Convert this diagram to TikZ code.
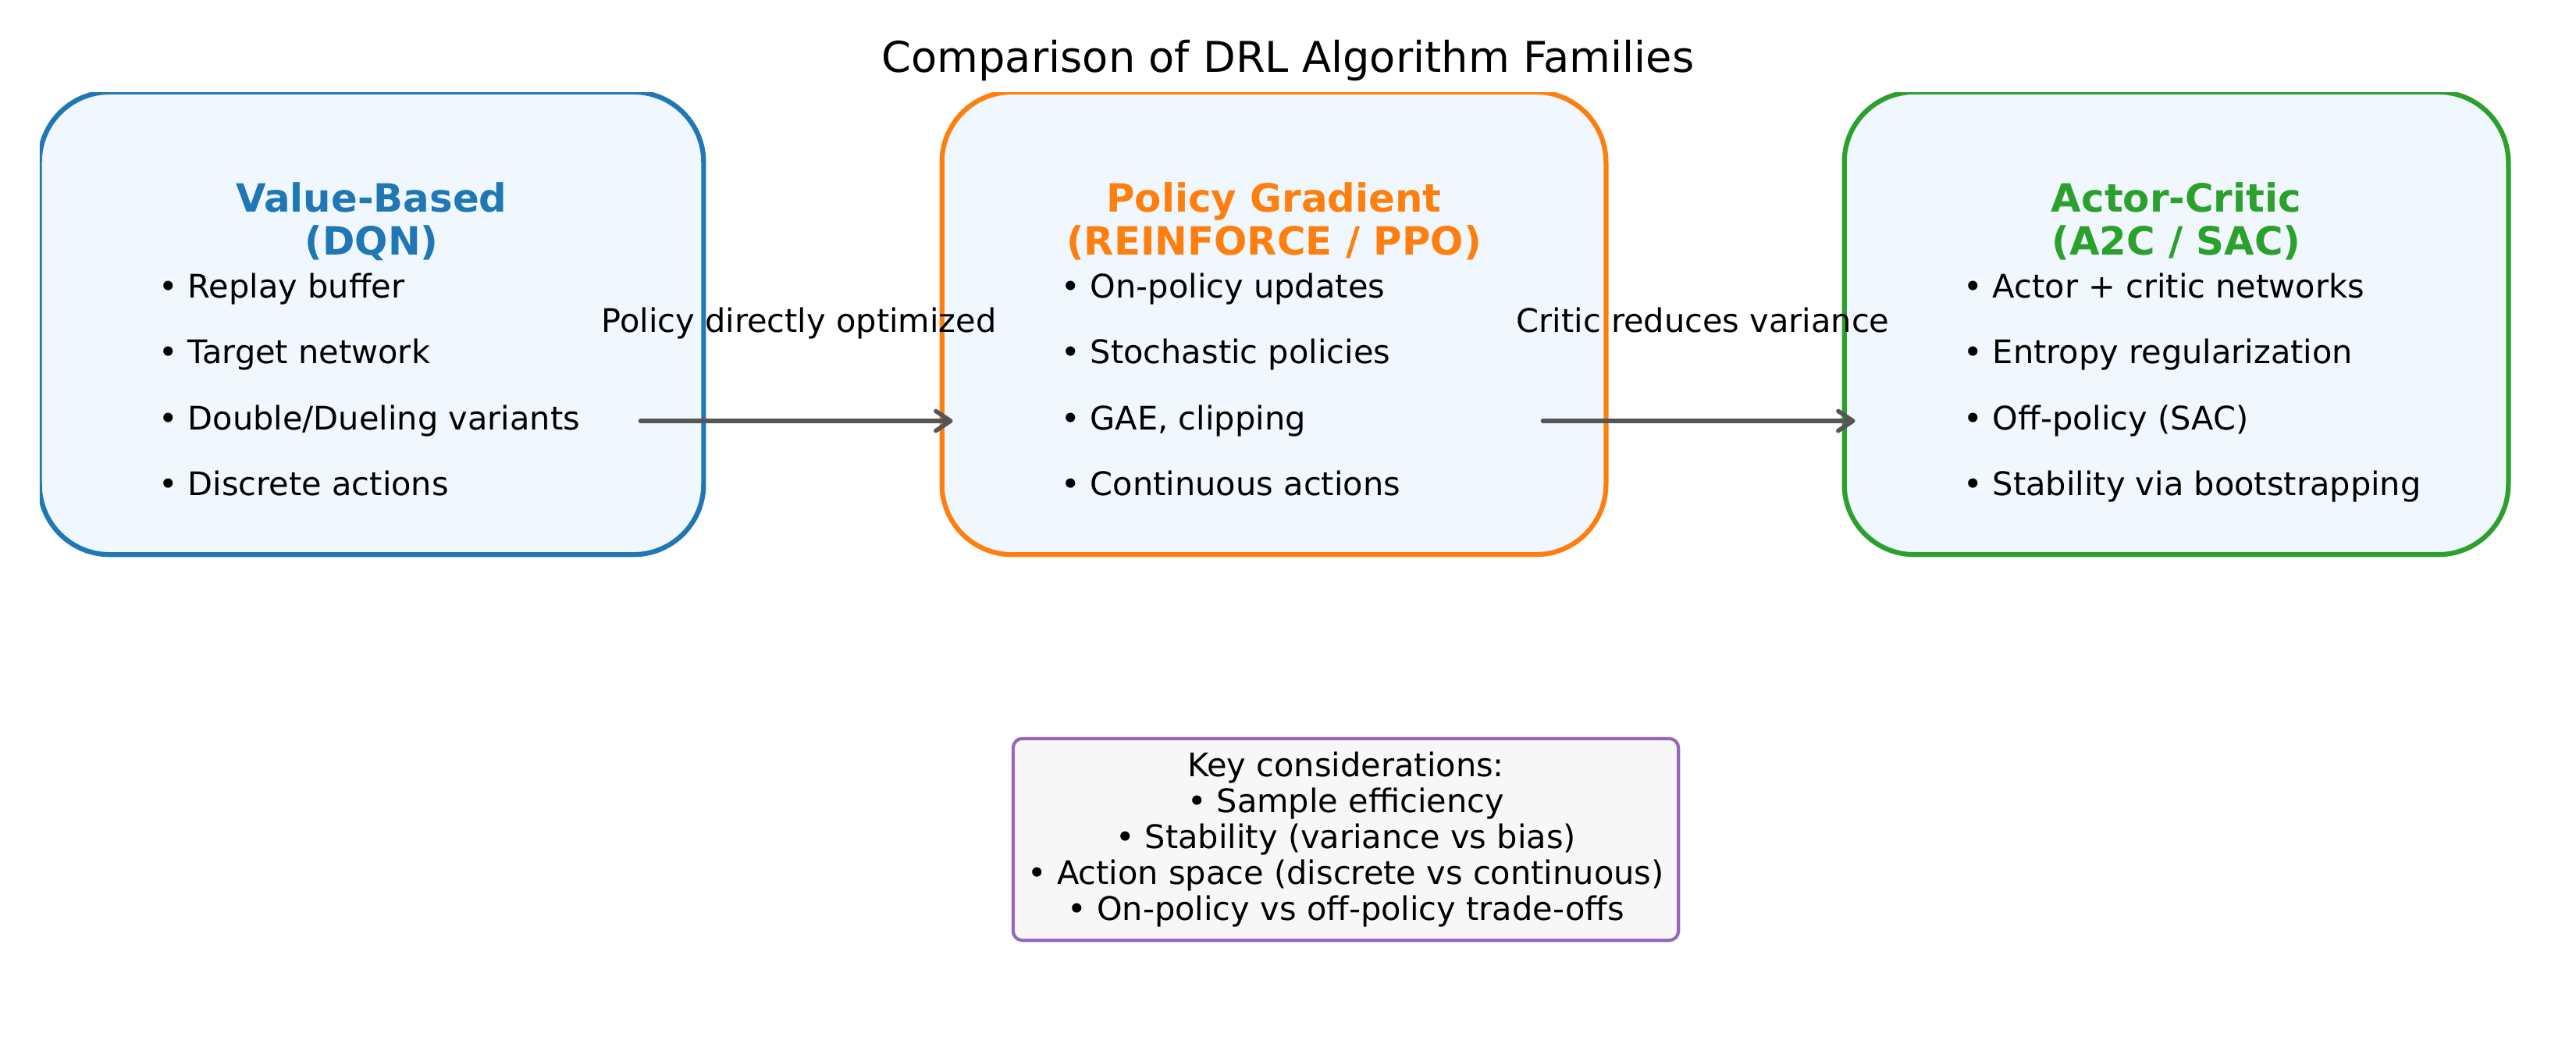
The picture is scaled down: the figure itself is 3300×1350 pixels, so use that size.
\documentclass[tikz,border=0pt]{standalone}
\usepackage{fontspec}
\setmainfont{DejaVu Sans}
\usetikzlibrary{arrows.meta, calc, positioning}

\definecolor{valueblue}{HTML}{1F77B4}
\definecolor{policyorange}{HTML}{FF7F0E}
\definecolor{criticgreen}{HTML}{2CA02C}
\definecolor{keypurple}{HTML}{9467BD}
\definecolor{boxfill}{HTML}{F0F7FE}
\definecolor{keyfill}{HTML}{F7F7F7}
\definecolor{arrowgray}{HTML}{555555}

\begin{document}
\begin{tikzpicture}[x=0.0127cm, y=-0.0127cm,
    family/.style={draw=#1, line width=2.25pt, fill=boxfill, rounded corners=1.14cm,
      minimum width=10.8cm, minimum height=7.52cm},
    heading/.style={align=center, text=#1, font=\bfseries\fontsize{18}{19.8}\selectfont},
    item/.style={anchor=west, inner sep=0pt, font=\fontsize{15}{16.6}\selectfont,
      text height=11.4pt, text depth=3.6pt},
    note/.style={font=\fontsize{15}{16.6}\selectfont, text height=11.4pt, text depth=3.6pt},
    flow/.style={-{Straight Barb[length=0.24cm, width=0.32cm, round]}, line width=2pt,
      arrowgray, line cap=round}]
    \useasboundingbox (0,0) rectangle (3300,1350);

    \node[font=\fontsize{19.6}{22}\selectfont] (title) at (1650,78) {Comparison of DRL Algorithm Families};

    % the three families (top and left edges cut by the plot area)
    \begin{scope}
        \clip (50.8,118) rectangle (3300,1350);
        \node[family=valueblue] (vb) at (476,414) {};
        \node[family=policyorange] (pg) at (1632,414) {};
        \node[family=criticgreen] (ac) at (2788,414) {};
    \end{scope}

    \node[heading=valueblue] (vbhead) at ($(vb.north)+(0,169)$) {Value-Based\\(DQN)};
    \node[heading=policyorange] (pghead) at ($(pg.north)+(0,169)$) {Policy Gradient\\(REINFORCE / PPO)};
    \node[heading=criticgreen] (achead) at ($(ac.north)+(0,169)$) {Actor-Critic\\(A2C / SAC)};

    \foreach \t [count=\i from 0] in {Replay buffer, Target network, Double/Dueling variants, Discrete actions}
        \node[item] (vbitem\i) at ($(vb.north west)+(155,256+84.4*\i)$) {• \t};
    \foreach \t [count=\i from 0] in {On-policy updates, Stochastic policies, {GAE, clipping}, Continuous actions}
        \node[item] (pgitem\i) at ($(pg.north west)+(155,256+84.4*\i)$) {• \t};
    \foreach \t [count=\i from 0] in {Actor + critic networks, Entropy regularization, Off-policy (SAC), Stability via bootstrapping}
        \node[item] (acitem\i) at ($(ac.north west)+(155,256+84.4*\i)$) {• \t};

    % transitions
    \coordinate (vbout) at ($(vb.east)+(-84,125)$);
    \coordinate (pgin) at ($(pg.west)+(17,125)$);
    \coordinate (pgout) at ($(pg.east)+(-84,125)$);
    \coordinate (acin) at ($(ac.west)+(17,125)$);
    \draw[flow] (vbout) -- (pgin);
    \draw[flow] (pgout) -- (acin);
    \node[note] (vbpglabel) at ($(vbout)!0.5!(pgin)+(3,-124)$) {Policy directly optimized};
    \node[note] (pgaclabel) at ($(pgout)!0.5!(acin)+(5,-124)$) {Critic reduces variance};

    % key considerations
    \node[draw=keypurple, line width=1.5pt, fill=keyfill, rounded corners=0.15cm,
      minimum width=10.82cm, minimum height=3.28cm, align=center,
      font=\fontsize{15}{16.6}\selectfont] (key) at (1724,1075)
      {Key considerations:\\• Sample efficiency\\• Stability (variance vs bias)\\• Action space (discrete vs continuous)\\• On-policy vs off-policy trade-offs};
\end{tikzpicture}
\end{document}
